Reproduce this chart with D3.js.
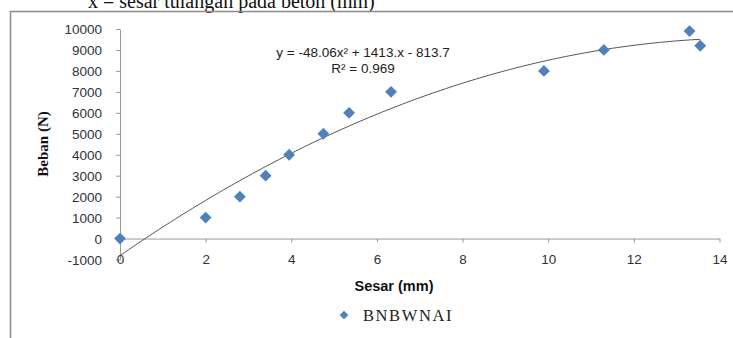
<!DOCTYPE html>
<html>
<head>
<meta charset="utf-8">
<script src="https://cdn.jsdelivr.net/npm/d3@7"></script>
<style>
  body { margin: 0; background: #fff; }
  svg { display: block; }
</style>
</head>
<body>
<div id="chart"></div>
<script>
// values
const sesar = [0, 2, 2.8, 3.4, 3.95, 4.75, 5.35, 6.33, 9.9, 11.3, 13.3, 13.55];
const beban = [0, 1000, 2000, 3000, 4000, 5000, 6000, 7000, 8000, 9000, 9900, 9200];
const xTicks = [0, 2, 4, 6, 8, 10, 12, 14];
const yTicks = [-1000, 0, 1000, 2000, 3000, 4000, 5000, 6000, 7000, 8000, 9000, 10000];
// polynomial trendline coefficients as printed on the chart (a, b, c)
const trendCoef = [-48.06, 1413, -813.7];
const seriesName = 'BNBWNAI';

const width = 733, height = 338;
const blue = '#4F81BD';
const axisGrey = '#9a9a9a';

let svg = d3.select('#chart').append('svg')
    .attr('width', width)
    .attr('height', height);

// clipped caption from the page above the chart
svg.append('text')
    .attr('x', 88)
    .attr('y', 8)
    .style('font-family', '"Liberation Serif", "Times New Roman", serif')
    .style('font-size', '20px')
    .attr('fill', '#111')
    .text('x = sesar tulangan pada beton (mm)');

// chart frame (only left and top edges are visible)
svg.append('path')
    .attr('d', 'M10.5,338 V11.5 H733')
    .attr('fill', 'none')
    .attr('stroke', '#8c8c8c')
    .attr('stroke-width', 1.5);

let x = d3.scaleLinear().domain([0, 14]).range([120, 719.5]);
let y = d3.scaleLinear().domain([-1000, 10000]).range([259.5, 29]);

// y axis
let yAxis = svg.append('g')
    .attr('transform', `translate(${x(0)},0)`)
    .call(d3.axisLeft(y).tickValues(yTicks).tickFormat(d => String(d))
        .tickSize(4).tickPadding(14).tickSizeOuter(0));
// x axis at y = 0
let xAxis = svg.append('g')
    .attr('transform', `translate(0,${y(0)})`)
    .call(d3.axisBottom(x).tickValues(xTicks).tickFormat(d => String(d))
        .tickSize(4).tickPadding(12).tickSizeOuter(0));

[yAxis, xAxis].forEach(a => {
    a.attr('font-family', null).attr('font-size', null);
    a.select('.domain').attr('stroke', axisGrey);
    a.selectAll('.tick line').attr('stroke', axisGrey);
    a.selectAll('.tick text')
        .attr('fill', '#333')
        .style('font-family', '"Liberation Sans", Arial, sans-serif')
        .style('font-size', '13.5px');
});
yAxis.selectAll('.tick text').attr('dy', '0.36em');

// trendline
let trend = d => trendCoef[0] * d * d + trendCoef[1] * d + trendCoef[2];
let xs = d3.range(0, d3.max(sesar), 0.1).concat([d3.max(sesar)]);
svg.append('path')
    .datum(xs)
    .attr('fill', 'none')
    .attr('stroke', '#555')
    .attr('stroke-width', 1)
    .attr('d', d3.line().x(d => x(d)).y(d => y(trend(d))));

// points
let diamond = d3.symbol().type(d3.symbolSquare).size(70);
svg.append('g')
    .selectAll('path')
    .data(sesar.map((d, i) => ({ x: d, y: beban[i] })))
    .enter()
    .append('path')
    .attr('d', diamond)
    .attr('transform', d => `translate(${x(d.x)},${y(d.y)}) rotate(45)`)
    .attr('fill', blue);

// equation label
let eq = svg.append('text')
    .attr('x', 363)
    .attr('y', 57)
    .attr('text-anchor', 'middle')
    .attr('fill', '#222')
    .style('font-family', '"Liberation Sans", Arial, sans-serif')
    .style('font-size', '13.5px');
eq.append('tspan').text('y = -48.06x² + 1413.x - 813.7');
eq.append('tspan').attr('x', 363).attr('dy', 16).text('R² = 0.969');

// axis titles
svg.append('text')
    .attr('transform', 'translate(48,144) rotate(-90)')
    .attr('text-anchor', 'middle')
    .attr('fill', '#111')
    .style('font-family', '"Liberation Serif", "Times New Roman", serif')
    .style('font-weight', 'bold')
    .style('font-size', '15px')
    .text('Beban (N)');

svg.append('text')
    .attr('x', 394)
    .attr('y', 291)
    .attr('text-anchor', 'middle')
    .attr('fill', '#111')
    .style('font-family', '"Liberation Sans", Arial, sans-serif')
    .style('font-weight', 'bold')
    .style('font-size', '14.5px')
    .text('Sesar (mm)');

// legend
let legend = svg.append('g').attr('transform', 'translate(344,315)');
legend.append('path')
    .attr('d', d3.symbol().type(d3.symbolSquare).size(38))
    .attr('transform', 'rotate(45)')
    .attr('fill', blue);
legend.append('text')
    .attr('x', 19)
    .attr('y', 5.5)
    .attr('fill', '#222')
    .style('font-family', '"Liberation Serif", "Times New Roman", serif')
    .style('font-size', '16.5px')
    .style('letter-spacing', '1.6px')
    .text(seriesName);
</script>
</body>
</html>
